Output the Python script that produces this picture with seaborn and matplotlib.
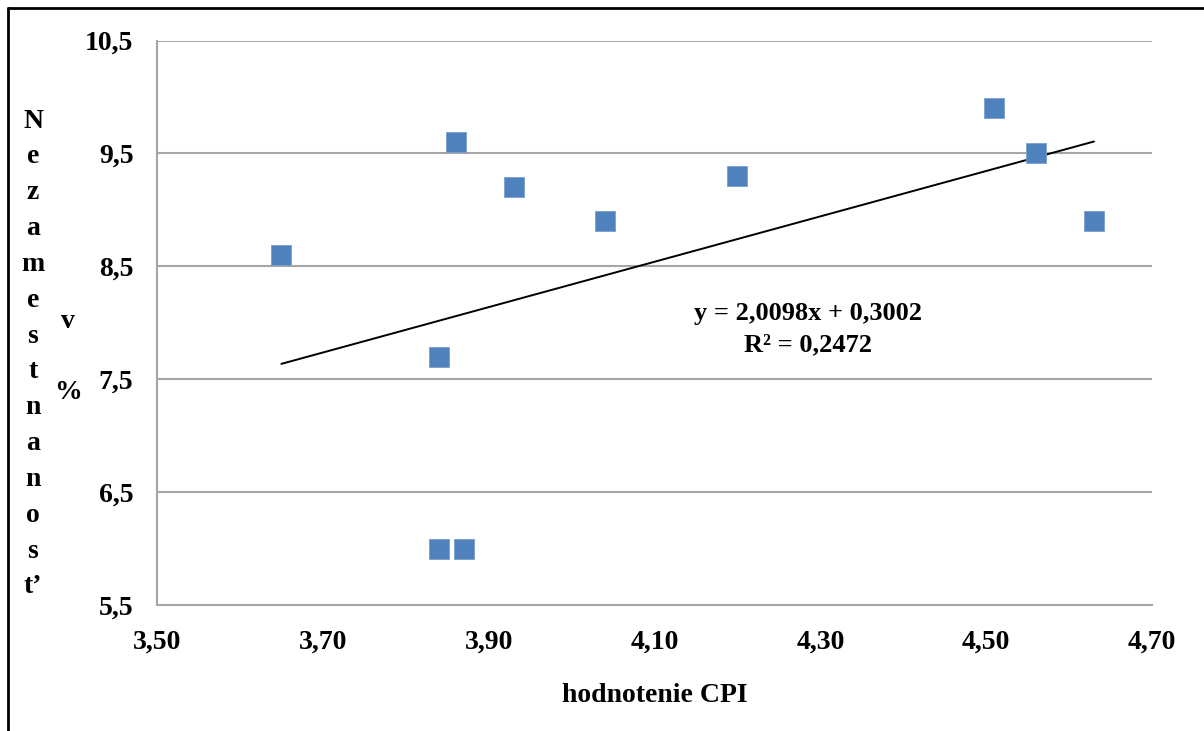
import numpy as np
import pandas as pd
import matplotlib
matplotlib.use("Agg")
import matplotlib.pyplot as plt
import seaborn as sns
from matplotlib.lines import Line2D

# data
cpi = [3.65, 3.86, 3.93, 4.04, 4.20, 4.51, 4.56, 4.63, 3.84, 3.84, 3.87]
unemployment = [8.6, 9.6, 9.2, 8.9, 9.3, 9.9, 9.5, 8.9, 7.7, 6.0, 6.0]

x_ticks = [3.50, 3.70, 3.90, 4.10, 4.30, 4.50, 4.70]
x_tick_labels = ["3,50", "3,70", "3,90", "4,10", "4,30", "4,50", "4,70"]
y_ticks = [5.5, 6.5, 7.5, 8.5, 9.5, 10.5]
y_tick_labels = ["5,5", "6,5", "7,5", "8,5", "9,5", "10,5"]

y_label_letters = ["N", "e", "z", "a", "m", "e", "s", "t", "n", "a", "n", "o", "s", "t’"]
eq_text = "y = 2,0098x + 0,3002\nR² = 0,2472"

df = pd.DataFrame({"cpi": cpi, "nezam": unemployment})

sns.set_style("white")
plt.rcParams["font.family"] = ["Liberation Serif", "DejaVu Serif"]
plt.rcParams["font.weight"] = "bold"
plt.rcParams["text.color"] = "black"
plt.rcParams["axes.labelcolor"] = "black"
plt.rcParams["xtick.labelcolor"] = "black"
plt.rcParams["ytick.labelcolor"] = "black"

fig = plt.figure(figsize=(12.04, 7.31), dpi=100)
ax = fig.add_axes([157 / 1204, 1 - 605 / 731, (1152 - 157) / 1204, (605 - 40.5) / 731])

grid_col = "#A6A6A6"
for yv in y_ticks[1:]:
    ax.axhline(yv, color=grid_col, lw=1.5, zorder=0)

sns.regplot(data=df, x="cpi", y="nezam", scatter=False, ci=None, ax=ax,
            line_kws=dict(color="black", lw=1.4, zorder=2))
sns.scatterplot(data=df, x="cpi", y="nezam", marker="s", s=210, color="#4F81BD",
                edgecolor="#7A9FCF", linewidth=0.6, ax=ax, zorder=3)

ax.set_xlim(3.50, 4.70)
ax.set_ylim(5.5, 10.5)
ax.set_xticks(x_ticks)
ax.set_xticklabels(x_tick_labels, fontsize=20, fontweight="bold")
ax.set_yticks(y_ticks)
ax.set_yticklabels(y_tick_labels, fontsize=20, fontweight="bold")
ax.tick_params(axis="both", direction="out", length=6, width=1.5, color=grid_col)
ax.tick_params(axis="y", pad=11)
ax.tick_params(axis="x", pad=12)

for side in ["top", "right"]:
    ax.spines[side].set_visible(False)
for side in ["left", "bottom"]:
    ax.spines[side].set_color(grid_col)
    ax.spines[side].set_linewidth(1.5)

ax.set_xlabel("hodnotenie CPI", fontsize=20, fontweight="bold", labelpad=20)
ax.set_ylabel("")

fig.text(33 / 1204, 1 - 354 / 731, "\n".join(y_label_letters), fontsize=20,
         fontweight="bold", ha="center", va="center", linespacing=1.57)
fig.text(68 / 1204, 1 - 357 / 731, "v\n\n%", fontsize=20, fontweight="bold",
         ha="center", va="center", linespacing=1.55)

ax.text(4.285, 7.94, eq_text, fontsize=19, fontweight="bold", ha="center",
        va="center", linespacing=1.45)

# frame of the figure (left and top edges visible)
fig.add_artist(Line2D([8 / 1204, 8 / 1204], [-0.1, 1 - 8 / 731], color="black", lw=2, transform=fig.transFigure))
fig.add_artist(Line2D([8 / 1204, 1.1], [1 - 8 / 731, 1 - 8 / 731], color="black", lw=2, transform=fig.transFigure))

fig.savefig("out.png", dpi=100)
